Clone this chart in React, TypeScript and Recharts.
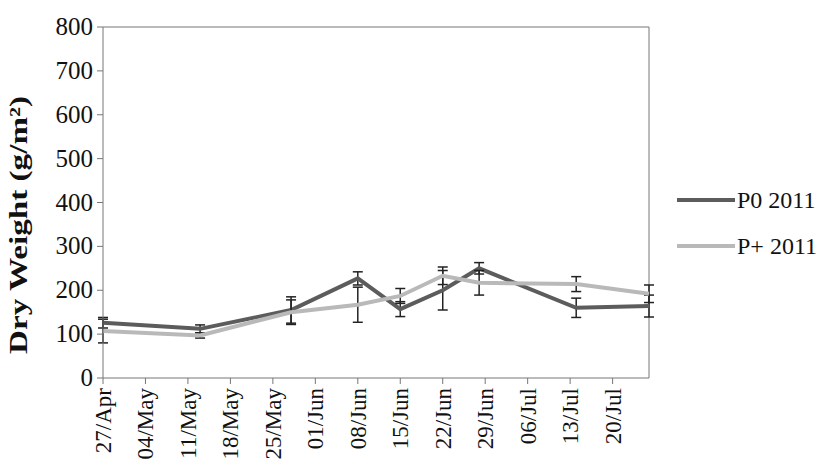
import React from "react"
import { LineChart, Line, XAxis, YAxis, ErrorBar, ReferenceLine } from "recharts"

// days since 27/Apr of each sampling
const sampleDays = [0, 16, 31, 42, 49, 56, 62, 78, 90]
const p0 = [126, 112, 155, 227, 157, 200, 250, 160, 164]
const p0Err = [12, 9, 30, 15, 17, 45, 13, 22, 25]
const pPlus = [107, 97, 150, 167, 187, 233, 217, 214, 192]
const pPlusErr = [27, 6, 28, 40, 17, 20, 28, 17, 20]

const tickDays = [0, 7, 14, 21, 28, 35, 42, 49, 56, 63, 70, 77, 84]
const tickLabels = ["27/Apr", "04/May", "11/May", "18/May", "25/May", "01/Jun", "08/Jun", "15/Jun", "22/Jun", "29/Jun", "06/Jul", "13/Jul", "20/Jul"]
const yTicks = [0, 100, 200, 300, 400, 500, 600, 700, 800]

const series = [
  { key: "p0", err: "p0Err", name: "P0 2011", color: "#5c5c5c" },
  { key: "pPlus", err: "pPlusErr", name: "P+ 2011", color: "#b9b9b9" },
]

const data = sampleDays.map((d, i) => ({
  day: d,
  p0: p0[i],
  p0Err: p0Err[i],
  pPlus: pPlus[i],
  pPlusErr: pPlusErr[i],
}))

const font = "Liberation Serif, serif"

const XTick = (props: any) => {
  const { x, y, payload } = props
  const label = tickLabels[tickDays.indexOf(payload.value)]
  return (
    <text
      x={x + 8}
      y={y + 2}
      transform={`rotate(-90, ${x + 8}, ${y + 2})`}
      textAnchor="end"
      fontFamily={font}
      fontSize={23}
      fill="#111"
    >
      {label}
    </text>
  )
}

const YTick = (props: any) => {
  const { x, y, payload } = props
  return (
    <text x={x} y={y} dy={8} textAnchor="end" fontFamily={font} fontSize={25} fill="#111">
      {payload.value}
    </text>
  )
}

export default function App() {
  return (
    <div style={{ position: "absolute", left: 0, top: 0, width: 823, height: 473, background: "#fff" }}>
      <LineChart width={823} height={473} data={data} margin={{ top: 27, right: 174, left: 0, bottom: 0 }}>
        <XAxis
          dataKey="day"
          type="number"
          domain={[0, 90]}
          ticks={tickDays}
          interval={0}
          tick={<XTick />}
          tickSize={6}
          height={95}
          stroke="#777"
        />
        <YAxis
          domain={[0, 800]}
          ticks={yTicks}
          width={103}
          tickSize={6}
          tickMargin={4}
          stroke="#777"
          tick={<YTick />}
          label={{
            content: () => (
              <text
                x={27}
                y={225}
                transform="rotate(-90, 27, 225)"
                textAnchor="middle"
                fontFamily={font}
                fontWeight="bold"
                fontSize={25}
                textLength={258}
                lengthAdjust="spacingAndGlyphs"
                fill="#111"
              >
                Dry Weight (g/m²)
              </text>
            ),
          }}
        />
        <ReferenceLine y={800} stroke="#777" />
        <ReferenceLine x={90} stroke="#777" />
        {series.map((s) => (
          <Line
            key={s.key}
            type="linear"
            dataKey={s.key}
            name={s.name}
            stroke={s.color}
            strokeWidth={4}
            dot={false}
            isAnimationActive={false}
          >
            <ErrorBar dataKey={s.err} direction="y" width={5} stroke="#222" strokeWidth={1.5} />
          </Line>
        ))}
      </LineChart>
      <div style={{ position: "absolute", left: 677, top: 177, fontFamily: font, fontSize: 24, color: "#111" }}>
        {series.map((s) => (
          <div key={s.key} style={{ display: "flex", alignItems: "center", height: 46 }}>
            <div style={{ width: 58, height: 4, background: s.color, marginRight: 2 }} />
            <span>{s.name}</span>
          </div>
        ))}
      </div>
    </div>
  )
}
